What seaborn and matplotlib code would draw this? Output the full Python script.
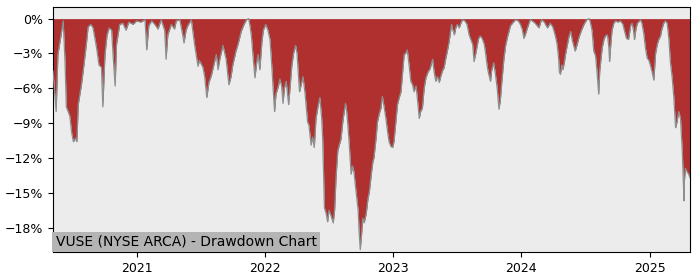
import pandas as pd
import numpy as np
import matplotlib
matplotlib.use("Agg")
import matplotlib.pyplot as plt
import matplotlib.dates as mdates
from matplotlib.ticker import PercentFormatter, FixedLocator
import seaborn as sns

title = "VUSE (NYSE ARCA) - Drawdown Chart"

dates = [
    "2020-05-07", "2020-05-12", "2020-05-16", "2020-05-21", "2020-05-29", "2020-06-05", "2020-06-10", "2020-06-14",
    "2020-06-24", "2020-06-29", "2020-07-04", "2020-07-10", "2020-07-14", "2020-07-18", "2020-07-27", "2020-08-01",
    "2020-08-10", "2020-08-15", "2020-08-23", "2020-08-29", "2020-09-08", "2020-09-15", "2020-09-22", "2020-09-26",
    "2020-10-02", "2020-10-08", "2020-10-14", "2020-10-21", "2020-10-25", "2020-10-31", "2020-11-04", "2020-11-13",
    "2020-11-22", "2020-12-01", "2020-12-09", "2020-12-21", "2020-12-31",
    "2021-01-12", "2021-01-24", "2021-01-29", "2021-02-04", "2021-02-12", "2021-02-21", "2021-03-02", "2021-03-11",
    "2021-03-21", "2021-03-25", "2021-03-30", "2021-04-09", "2021-04-18", "2021-04-23", "2021-05-03", "2021-05-12",
    "2021-05-15", "2021-05-21", "2021-05-26", "2021-06-05", "2021-06-14", "2021-06-24", "2021-06-28", "2021-07-08",
    "2021-07-13", "2021-07-19", "2021-07-25", "2021-08-01", "2021-08-08", "2021-08-15", "2021-08-20", "2021-08-25",
    "2021-09-03", "2021-09-12", "2021-09-20", "2021-09-26", "2021-10-01", "2021-10-10", "2021-10-16", "2021-10-21",
    "2021-10-25", "2021-11-02", "2021-11-09", "2021-11-15", "2021-11-19", "2021-11-23", "2021-11-27", "2021-12-03",
    "2021-12-08", "2021-12-12", "2021-12-17", "2021-12-23", "2021-12-27",
    "2022-01-03", "2022-01-09", "2022-01-15", "2022-01-21", "2022-01-24", "2022-01-28", "2022-02-01", "2022-02-08",
    "2022-02-12", "2022-02-17", "2022-02-21", "2022-02-25", "2022-03-02", "2022-03-09", "2022-03-13", "2022-03-18",
    "2022-03-23", "2022-03-29", "2022-04-02", "2022-04-09", "2022-04-13", "2022-04-19", "2022-04-25", "2022-04-28",
    "2022-05-02", "2022-05-06", "2022-05-12", "2022-05-16", "2022-05-21", "2022-05-26", "2022-06-01", "2022-06-06",
    "2022-06-11", "2022-06-14", "2022-06-19", "2022-06-24", "2022-06-28", "2022-07-02", "2022-07-08", "2022-07-14",
    "2022-07-18", "2022-07-22", "2022-07-27", "2022-08-01", "2022-08-05", "2022-08-11", "2022-08-18", "2022-08-21",
    "2022-08-24", "2022-08-28", "2022-09-03", "2022-09-07", "2022-09-11", "2022-09-17", "2022-09-23", "2022-09-26",
    "2022-09-29", "2022-10-03", "2022-10-06", "2022-10-10", "2022-10-16", "2022-10-21", "2022-10-25", "2022-10-30",
    "2022-11-04", "2022-11-07", "2022-11-13", "2022-11-17", "2022-11-22", "2022-11-27", "2022-12-01", "2022-12-06",
    "2022-12-11", "2022-12-16", "2022-12-20", "2022-12-25", "2022-12-30",
    "2023-01-03", "2023-01-08", "2023-01-13", "2023-01-18", "2023-01-23", "2023-01-28", "2023-02-01", "2023-02-05",
    "2023-02-10", "2023-02-15", "2023-02-20", "2023-02-25", "2023-03-01", "2023-03-07", "2023-03-11", "2023-03-16",
    "2023-03-20", "2023-03-25", "2023-03-30", "2023-04-04", "2023-04-10", "2023-04-16", "2023-04-23", "2023-04-27",
    "2023-05-02", "2023-05-07", "2023-05-12", "2023-05-16", "2023-05-21", "2023-05-26", "2023-05-30", "2023-06-04",
    "2023-06-09", "2023-06-16", "2023-06-19", "2023-06-24", "2023-06-28", "2023-07-02", "2023-07-08", "2023-07-11",
    "2023-07-17", "2023-07-24", "2023-07-30", "2023-08-05", "2023-08-11", "2023-08-15", "2023-08-19", "2023-08-24",
    "2023-08-29", "2023-09-01", "2023-09-06", "2023-09-11", "2023-09-17", "2023-09-21", "2023-09-26", "2023-09-30",
    "2023-10-05", "2023-10-08", "2023-10-14", "2023-10-19", "2023-10-24", "2023-10-29", "2023-11-02", "2023-11-06",
    "2023-11-12", "2023-11-17", "2023-11-23", "2023-12-01", "2023-12-09", "2023-12-15", "2023-12-23", "2023-12-29",
    "2024-01-03", "2024-01-08", "2024-01-13", "2024-01-18", "2024-01-26", "2024-02-01", "2024-02-09", "2024-02-20",
    "2024-02-27", "2024-03-06", "2024-03-15", "2024-03-23", "2024-03-30", "2024-04-04", "2024-04-09", "2024-04-12",
    "2024-04-16", "2024-04-18", "2024-04-21", "2024-04-25", "2024-04-28", "2024-05-02", "2024-05-06", "2024-05-11",
    "2024-05-15", "2024-05-20", "2024-05-25", "2024-06-02", "2024-06-07", "2024-06-13", "2024-06-20", "2024-06-27",
    "2024-07-05", "2024-07-12", "2024-07-15", "2024-07-20", "2024-07-25", "2024-07-30", "2024-08-03", "2024-08-08",
    "2024-08-11", "2024-08-18", "2024-08-23", "2024-08-27", "2024-09-02", "2024-09-06", "2024-09-08", "2024-09-12",
    "2024-09-15", "2024-09-20", "2024-09-25", "2024-10-02", "2024-10-09", "2024-10-16", "2024-10-20", "2024-10-26",
    "2024-11-01", "2024-11-07", "2024-11-11", "2024-11-15", "2024-11-18", "2024-11-22", "2024-11-26", "2024-12-05",
    "2024-12-09", "2024-12-14", "2024-12-19", "2024-12-24", "2024-12-29",
    "2025-01-02", "2025-01-07", "2025-01-12", "2025-01-17", "2025-01-22", "2025-01-26", "2025-01-31", "2025-02-04",
    "2025-02-09", "2025-02-14", "2025-02-19", "2025-02-24", "2025-02-28", "2025-03-05", "2025-03-10", "2025-03-15",
    "2025-03-19", "2025-03-24", "2025-03-29", "2025-04-03", "2025-04-08", "2025-04-09", "2025-04-12", "2025-04-17",
    "2025-04-21", "2025-04-25",
]

drawdown_pct = [
    -4.5, -6.5, -8.0, -3.1, -1.6, -0.2, -3.5, -7.6,
    -8.4, -9.8, -10.6, -10.3, -10.6, -7.4, -5.7, -4.5,
    -2.2, -0.7, -0.5, -0.8, -2.5, -4.0, -4.2, -7.6,
    -3.1, -1.4, -0.8, -1.0, -3.1, -5.8, -2.2, -0.5,
    -0.4, -1.0, -0.3, -0.5, -0.2,
    -0.3, -0.1, -2.7, -0.6, -0.2, -0.5, -0.9, -0.1,
    -1.0, -3.5, -1.4, -0.5, -0.9, -0.2, -0.1, -1.5,
    -2.1, -1.0, -0.6, -0.1, -2.2, -4.1, -3.6, -4.2,
    -5.0, -6.8, -5.5, -4.9, -4.0, -3.1, -4.4, -3.5,
    -2.3, -3.5, -5.7, -5.0, -4.0, -2.8, -2.2, -1.6,
    -1.1, -0.5, -0.1, 0.0, -0.6, -1.5, -3.0, -5.1,
    -3.8, -3.1, -4.4, -2.0, -1.0,
    -0.5, -1.0, -1.8, -4.5, -6.1, -8.0, -6.5, -5.8,
    -5.2, -5.8, -7.3, -6.0, -5.4, -7.4, -6.0, -4.1,
    -3.0, -2.3, -3.0, -6.3, -5.8, -5.0, -6.5, -7.5,
    -8.9, -9.2, -10.9, -10.2, -11.1, -8.6, -7.5, -6.8,
    -8.5, -10.3, -16.3, -16.8, -17.5, -16.5, -17.0, -17.6,
    -16.5, -13.7, -11.4, -10.8, -10.4, -8.7, -7.3, -7.9,
    -8.9, -10.5, -13.4, -12.7, -13.2, -14.9, -16.5, -18.5,
    -19.9, -18.5, -17.2, -17.6, -16.8, -15.5, -14.9, -13.5,
    -12.3, -12.0, -10.3, -8.9, -8.2, -7.7, -6.7, -7.6,
    -8.6, -9.8, -10.6, -11.0, -11.1,
    -10.6, -9.0, -7.4, -6.8, -6.3, -4.5, -3.1, -3.0,
    -2.7, -4.0, -5.4, -5.7, -6.3, -5.8, -7.0, -8.6,
    -8.0, -7.7, -6.0, -5.1, -4.6, -4.3, -3.5, -4.5,
    -5.4, -5.0, -5.5, -5.0, -4.5, -4.2, -3.5, -2.8,
    -2.0, -0.5, -0.9, -1.4, -0.8, -0.5, -0.8, -0.5,
    -0.1, -0.2, -0.5, -1.4, -1.9, -2.2, -3.7, -3.0,
    -2.2, -1.7, -1.5, -1.7, -2.2, -3.0, -4.2, -4.8,
    -5.4, -4.5, -3.8, -4.8, -6.0, -7.8, -7.0, -5.5,
    -3.5, -2.3, -1.5, -0.6, -0.3, -0.1, -0.2, -0.5,
    -0.9, -1.7, -1.3, -0.8, -0.1, -0.2, -0.4, -0.8,
    -0.1, -0.3, -0.8, -0.4, -0.7, -1.2, -1.8, -2.3,
    -3.5, -4.6, -4.8, -4.0, -4.4, -3.8, -3.0, -2.2,
    -1.6, -1.1, -1.9, -2.8, -2.3, -1.6, -1.0, -0.5,
    -0.1, 0.0, -0.3, -1.0, -2.8, -3.2, -4.5, -6.5,
    -4.5, -2.5, -1.8, -1.5, -1.4, -2.5, -3.7, -2.0,
    -1.0, -0.4, -0.2, -0.3, -0.2, -0.5, -1.0, -1.7,
    -1.8, -0.6, -0.4, -1.0, -1.8, -0.9, -0.4, -0.1,
    -0.4, -1.2, -2.5, -3.4, -3.6,
    -4.0, -4.6, -5.3, -3.0, -2.2, -1.8, -1.5, -0.9,
    -0.4, -0.2, -0.4, -1.8, -3.7, -5.0, -6.8, -9.4,
    -8.9, -8.0, -8.6, -11.4, -15.7, -14.0, -12.9, -13.2,
    -13.4, -13.7,
]

y_ticks = [0, -3, -6, -9, -12, -15, -18]

df = pd.DataFrame({"date": pd.to_datetime(dates), "drawdown": drawdown_pct})

fig = plt.figure(figsize=(7, 2.8), dpi=100)
ax = fig.add_axes([0.0757, 0.1, 0.91, 0.875])
ax.set_facecolor("#ececec")

ax.fill_between(df["date"], df["drawdown"], 0, color="#b03030", linewidth=0, zorder=2)
sns.lineplot(data=df, x="date", y="drawdown", ax=ax, color="#8a9090", linewidth=0.9, zorder=3)

ax.set_xlim(df["date"].min(), df["date"].max())
ax.set_ylim(-20.1, 1.0)
ax.yaxis.set_major_locator(FixedLocator(y_ticks))
ax.yaxis.set_major_formatter(PercentFormatter(decimals=0))
ax.xaxis.set_major_locator(mdates.YearLocator())
ax.xaxis.set_major_formatter(mdates.DateFormatter("%Y"))
ax.set_xlabel("")
ax.set_ylabel("")
ax.tick_params(labelsize=9)

ax.text(0.004, 0.013, title, transform=ax.transAxes, ha="left", va="bottom",
        fontsize=10, color="black", zorder=5,
        bbox=dict(facecolor="#b4b4b4", edgecolor="none", pad=2.2))

fig.savefig("out.png", dpi=100)
